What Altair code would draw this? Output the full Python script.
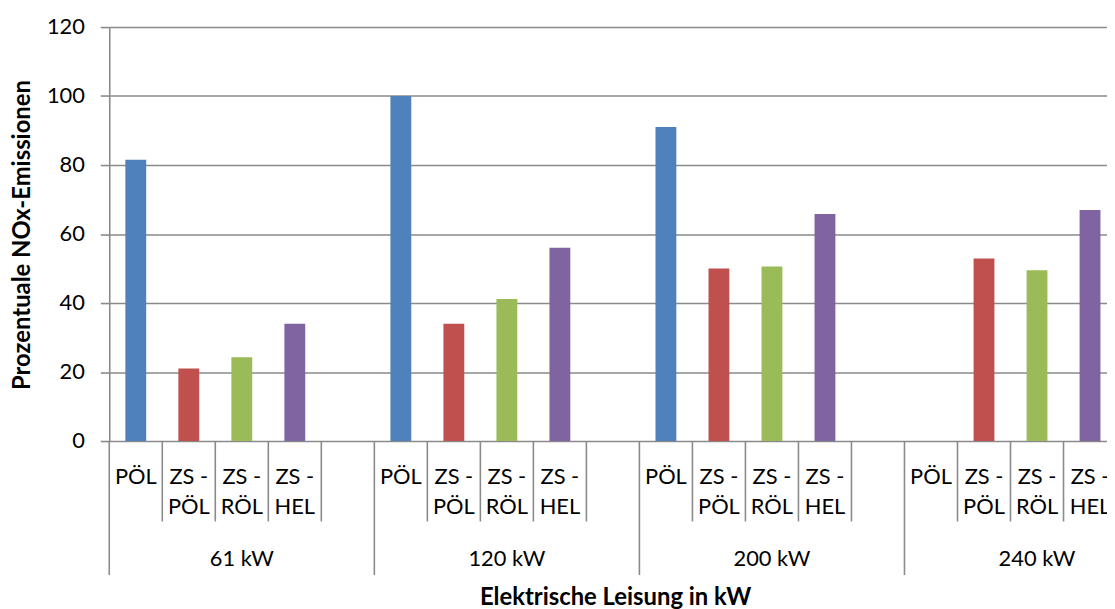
import altair as alt
import pandas as pd

groups = ["61 kW", "120 kW", "200 kW", "240 kW"]
series = ["PÖL", "ZS - PÖL", "ZS - RÖL", "ZS - HEL"]
slot_labels = ["PÖL", "ZS -\nPÖL", "ZS -\nRÖL", "ZS -\nHEL"]
pol = [81.5, 100.0, 91.0, None]
zs_pol = [21.0, 34.0, 50.0, 52.9]
zs_rol = [24.3, 41.2, 50.6, 49.5]
zs_hel = [34.0, 56.0, 65.8, 67.0]
colors = ["#4F81BD", "#C0504D", "#9BBB59", "#8064A2"]
y_ticks = [0, 20, 40, 60, 80, 100, 120]

FONT = "Lato"
GRAY = "#8a8a8a"
W, H = 1005, 417
FULL = 1068
STEP = FULL / 20
LBL = 22
TTL = 24

values = [pol, zs_pol, zs_rol, zs_hel]
slots = [f"{g}|{i}" for g in groups for i in range(5)]

bar_rows = []
for gi, g in enumerate(groups):
    for si, s in enumerate(series):
        v = values[si][gi]
        if v is not None:
            bar_rows.append({"slot": f"{g}|{si}", "series": s, "value": v})
bars_df = pd.DataFrame(bar_rows)

label_df = pd.DataFrame(
    [{"slot": f"{g}|{si}", "label": slot_labels[si]} for g in groups for si in range(4)]
)
short_df = pd.DataFrame([{"slot": f"{g}|{i}"} for g in groups for i in range(1, 5)])
long_df = pd.DataFrame([{"slot": f"{g}|0"} for g in groups])
group_df = pd.DataFrame([{"slot": f"{g}|2", "label": g} for g in groups])
title_df = pd.DataFrame([{"t": "Elektrische Leisung in kW"}])

pin = 1 - 21 / STEP
xscale = alt.Scale(domain=slots, range=[0, FULL], paddingInner=pin, paddingOuter=pin / 2)
X = alt.X("slot:N", scale=xscale, axis=None)

bars = alt.Chart(bars_df).mark_bar().encode(
    x=X,
    y=alt.Y(
        "value:Q",
        scale=alt.Scale(domain=[0, 120], nice=False),
        axis=alt.Axis(
            values=y_ticks,
            grid=True,
            gridColor=GRAY,
            gridWidth=1.6,
            domainColor=GRAY,
            domainWidth=1.6,
            tickColor=GRAY,
            tickWidth=1.6,
            tickSize=9,
            labelFont=FONT,
            labelFontSize=LBL,
            labelColor="black",
            labelPadding=16,
            title="Prozentuale NOx-Emissionen",
            titleFont=FONT,
            titleFontSize=TTL,
            titleFontWeight="bold",
            titleColor="black",
            titleX=-87,
            titleY=209,
            titleAlign="center",
            titleBaseline="middle",
        ),
    ),
    color=alt.Color("series:N", scale=alt.Scale(domain=series, range=colors), legend=None),
)

labels = alt.Chart(label_df).mark_text(
    lineBreak="\n", baseline="alphabetic", align="center", fontSize=LBL, font=FONT,
    lineHeight=31, color="black",
).encode(x=X, y=alt.value(460), text="label:N")

short_rules = alt.Chart(short_df).mark_rule(color=GRAY, strokeWidth=1.6, xOffset=-STEP / 2).encode(
    x=X, y=alt.value(H), y2=alt.value(H + 81)
)
long_rules = alt.Chart(long_df).mark_rule(color=GRAY, strokeWidth=1.6, xOffset=-STEP / 2).encode(
    x=X, y=alt.value(H), y2=alt.value(H + 135)
)

group_labels = alt.Chart(group_df).mark_text(
    baseline="alphabetic", align="center", fontSize=LBL, font=FONT, color="black"
).encode(x=X, y=alt.value(543), text="label:N")

x_title = alt.Chart(title_df).mark_text(
    baseline="alphabetic", align="center", fontSize=TTL, font=FONT, fontWeight="bold", color="black"
).encode(x=alt.value(510), y=alt.value(582), text="t:N")

chart = (
    alt.layer(bars, short_rules, long_rules, labels, group_labels, x_title)
    .properties(
        width=W,
        height=H,
        autosize=alt.AutoSizeParams(type="none"),
        padding={"left": 102, "top": 17, "right": 0, "bottom": 167},
        background="white",
    )
    .configure_view(strokeOpacity=0)
)

chart.save("out.html", embed_options={"renderer": "svg", "actions": False})
